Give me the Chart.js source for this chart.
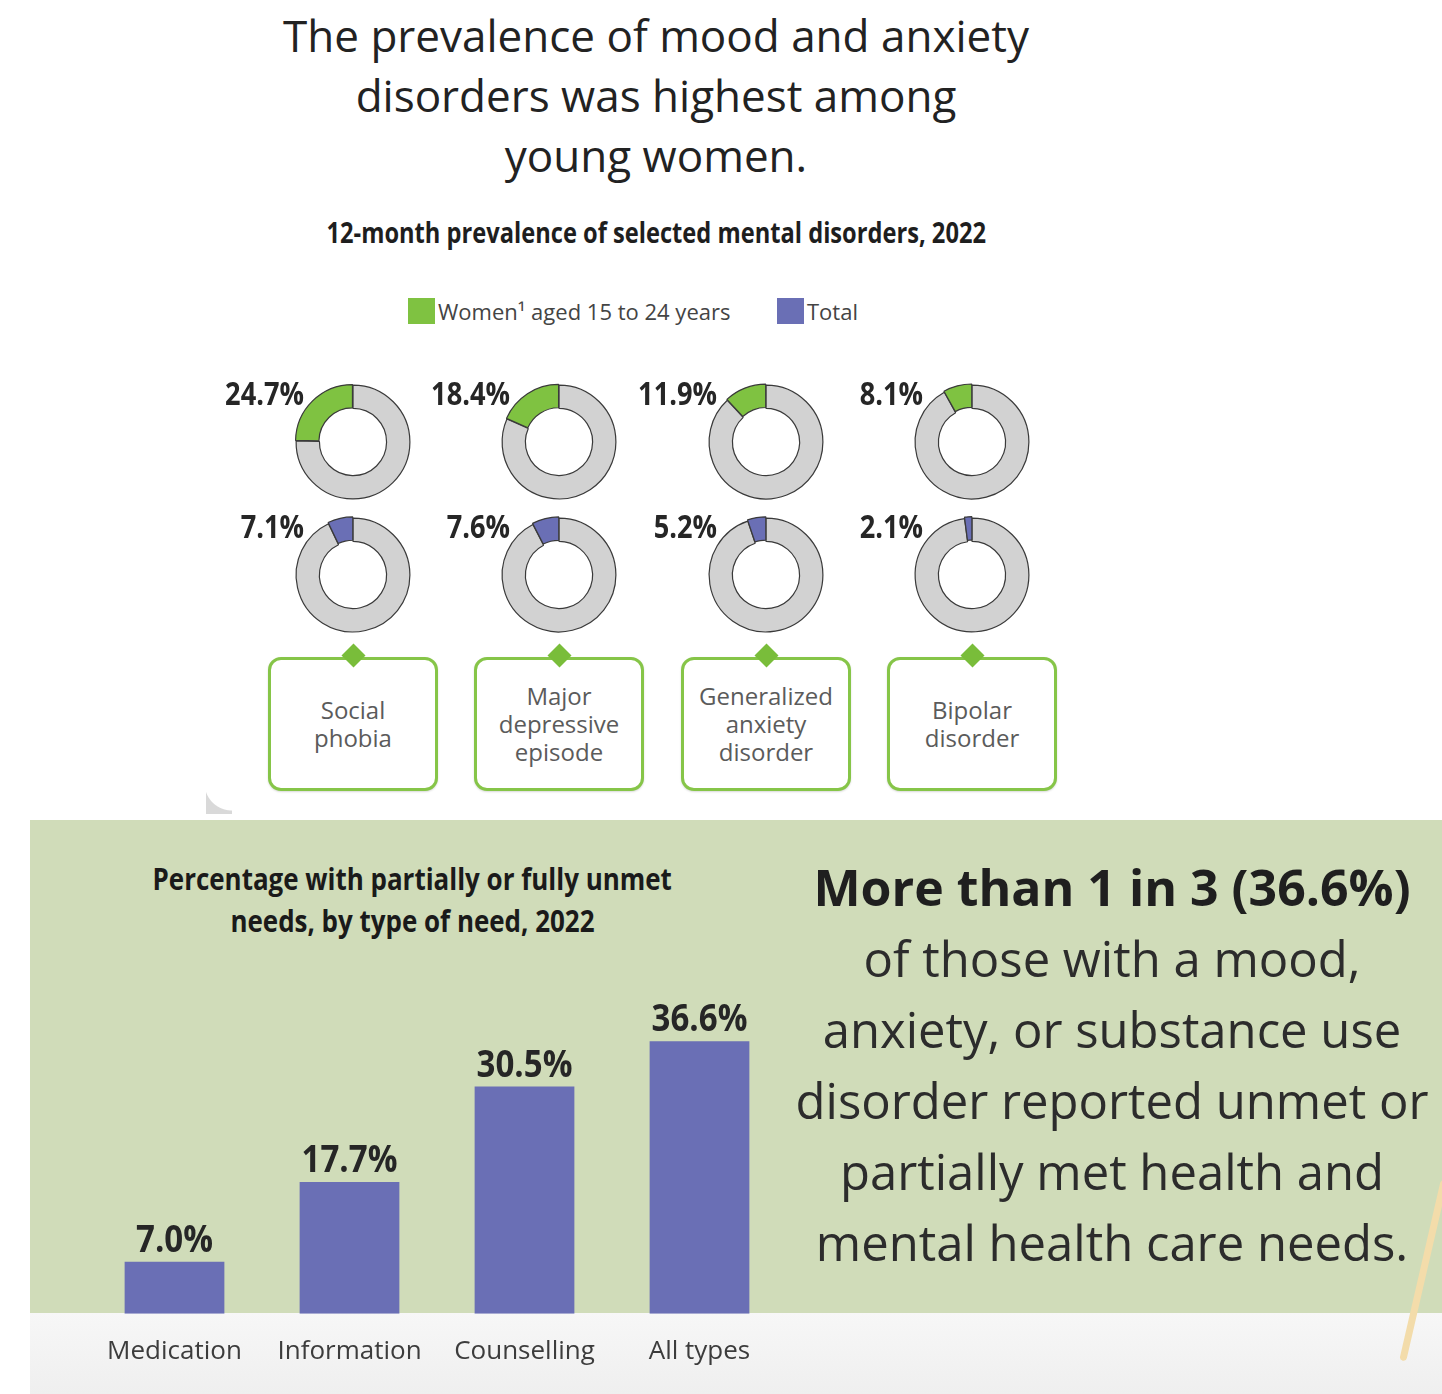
<!DOCTYPE html>
<html>
<head>
<meta charset="utf-8">
<script src="https://cdn.jsdelivr.net/npm/chart.js@4.4.0/dist/chart.umd.min.js"></script>
<style>
  body { margin: 0; width: 1442px; height: 1394px; position: relative; overflow: hidden; background: #fff; font-family: "Open Sans", sans-serif; }
  .abs { position: absolute; }
  .center { text-align: center; }
  .cond { display: inline-block; font-weight: 700; white-space: nowrap; transform-origin: center; }
  #title { left: 256px; width: 800px; top: 5px; font-size: 44px; line-height: 60px; color: #222; }
  #subtitle { left: 256px; width: 800px; top: 212px; font-size: 28px; line-height: 40px; color: #1e1e1e; }
  #subtitle .cond { transform: scaleX(0.845); }
  .legend { top: 296px; font-size: 22px; line-height: 30px; color: #444; display: flex; align-items: center; }
  .swatch { width: 27px; height: 26px; margin-right: 3px; }
  .box { border: 3px solid #86c548; border-radius: 13px; width: 164px; height: 128px; background: #fff;
         display: flex; align-items: center; justify-content: center; text-align: center;
         font-size: 24px; line-height: 28px; color: #5b5b5b; box-shadow: 0 1px 2px rgba(0,0,0,0.15); }
  .diamond { width: 17px; height: 17px; background: #79bd3a; transform: rotate(45deg); }
  #panel { left: 30px; top: 820px; width: 1412px; height: 493px; background: #d0dcb9; }
  #floor { left: 30px; top: 1313px; width: 1412px; height: 81px; background: linear-gradient(#f7f7f7, #efefef); }
  #barTitle { left: 62px; width: 700px; top: 858px; font-size: 30px; line-height: 42px; color: #1a1a1a; }
  #barTitle .cond { transform: scaleX(0.865); }
  #callout { left: 772px; width: 680px; top: 852px; font-size: 49px; line-height: 71px; color: #2c2c2c; }
  #callout b { font-size: 50px; color: #1f1f1f; }
  #curl { left: 206px; top: 783px; width: 26px; height: 31px; background: radial-gradient(circle at 100% 0, transparent 27px, #d9d9d9 28px); }
  #pencil { left: 1420px; top: 1178px; width: 7px; height: 185px; background: #f3dcaa; transform: rotate(13deg); border-radius: 4px; }
  canvas { position: absolute; }
</style>
</head>
<body>
<div id="title" class="abs center">The prevalence of mood and anxiety<br>disorders was highest among<br>young women.</div>
<div id="subtitle" class="abs center"><span class="cond">12-month prevalence of selected mental disorders, 2022</span></div>
<div id="legend"></div>
<div id="curl" class="abs"></div>
<div id="panel" class="abs"></div>
<div id="floor" class="abs"></div>
<div id="pencil" class="abs"></div>
<div id="barTitle" class="abs center"><span class="cond">Percentage with partially or fully unmet</span><br><span class="cond">needs, by type of need, 2022</span></div>
<div id="callout" class="abs center"><b>More than 1 in 3 (36.6%)</b><br>of those with a mood,<br>anxiety, or substance use<br>disorder reported unmet or<br>partially met health and<br>mental health care needs.</div>
<canvas id="bars" width="800" height="434" style="left:0;top:960px"></canvas>

<script>
// 12-month prevalence, 2022
const disorders = [['Social', 'phobia'], ['Major', 'depressive', 'episode'], ['Generalized', 'anxiety', 'disorder'], ['Bipolar', 'disorder']];
const womenValues = [24.7, 18.4, 11.9, 8.1];
const totalValues = [7.1, 7.6, 5.2, 2.1];
const seriesNames = ['Women\u00b9 aged 15 to 24 years', 'Total'];

// unmet needs, 2022
const needTypes = ['Medication', 'Information', 'Counselling', 'All types'];
const unmetValues = [7.0, 17.7, 30.5, 36.6];

const GREEN = '#7fc241';
const BLUE = '#6a6fb5';
const RING = '#d2d2d2';

// layout of the donut grid
const colX = [353, 559, 766, 972];
const rowY = [442, 575];

function condText(ctx, text, x, y, size, sx, align) {
    ctx.save();
    ctx.translate(x, y);
    ctx.scale(sx, 1);
    ctx.font = 'bold ' + size + 'px "Open Sans"';
    ctx.fillStyle = '#262626';
    ctx.textAlign = align;
    ctx.textBaseline = 'alphabetic';
    ctx.fillText(text, 0, 0);
    ctx.restore();
}

// legend
const legend = document.getElementById('legend');
[[seriesNames[0], GREEN, 408], [seriesNames[1], BLUE, 777]].forEach(([name, color, left]) => {
    const d = document.createElement('div');
    d.className = 'abs legend';
    d.style.left = left + 'px';
    d.innerHTML = `<div class="swatch" style="background:${color}"></div><span>${name}</span>`;
    legend.appendChild(d);
});

const pctLabel = {
    id: 'pctLabel',
    afterDraw(chart) {
        const arc = chart.getDatasetMeta(0).data[1];
        const v = chart.data.datasets[0].data[1];
        condText(chart.ctx, v.toFixed(1) + '%', arc.x - 49, arc.y - 37, 32, 0.85, 'right');
    }
};

function donut(value, color, cx, cy) {
    const c = document.createElement('canvas');
    c.width = 210;
    c.height = 140;
    c.style.left = (cx - 149) + 'px';
    c.style.top = (cy - 70) + 'px';
    document.body.appendChild(c);
    new Chart(c, {
        type: 'doughnut',
        data: {
            labels: ['other', 'value'],
            datasets: [{
                data: [100 - value, value],
                backgroundColor: [RING, color],
                borderColor: '#3a3a3a',
                borderWidth: 1.2,
                offset: [0, 3]
            }]
        },
        options: {
            responsive: false,
            animation: false,
            events: [],
            cutout: '59%',
            layout: { padding: { left: 90, top: 10, bottom: 10, right: 2 } },
            plugins: { legend: { display: false }, tooltip: { enabled: false } }
        },
        plugins: [pctLabel]
    });
}

disorders.forEach((lines, i) => {
    donut(womenValues[i], GREEN, colX[i], rowY[0]);
    donut(totalValues[i], BLUE, colX[i], rowY[1]);

    const box = document.createElement('div');
    box.className = 'abs box';
    box.style.left = (colX[i] - 85) + 'px';
    box.style.top = '657px';
    box.innerHTML = lines.join('<br>');
    document.body.appendChild(box);

    const dia = document.createElement('div');
    dia.className = 'abs diamond';
    dia.style.left = (colX[i] - 8) + 'px';
    dia.style.top = '647px';
    document.body.appendChild(dia);
});

// bar chart
const barLabels = {
    id: 'barLabels',
    afterDatasetsDraw(chart) {
        chart.getDatasetMeta(0).data.forEach((bar, i) => {
            condText(chart.ctx, unmetValues[i].toFixed(1) + '%', bar.x, bar.y - 10, 38, 0.87, 'center');
        });
    }
};

new Chart(document.getElementById('bars'), {
    type: 'bar',
    data: {
        labels: needTypes,
        datasets: [{
            data: unmetValues,
            backgroundColor: BLUE,
            categoryPercentage: 1,
            barPercentage: 0.57
        }]
    },
    options: {
        responsive: false,
        animation: false,
        events: [],
        layout: { padding: { left: 87, right: 13, top: 26, bottom: 5 } },
        scales: {
            x: {
                grid: { display: false, drawTicks: false },
                border: { display: false },
                ticks: { padding: 22, color: '#3c3c3c', font: { family: 'Open Sans', size: 26 } }
            },
            y: { display: false, min: 0, max: 44 }
        },
        plugins: { legend: { display: false }, tooltip: { enabled: false } }
    },
    plugins: [barLabels]
});
</script>
</body>
</html>
